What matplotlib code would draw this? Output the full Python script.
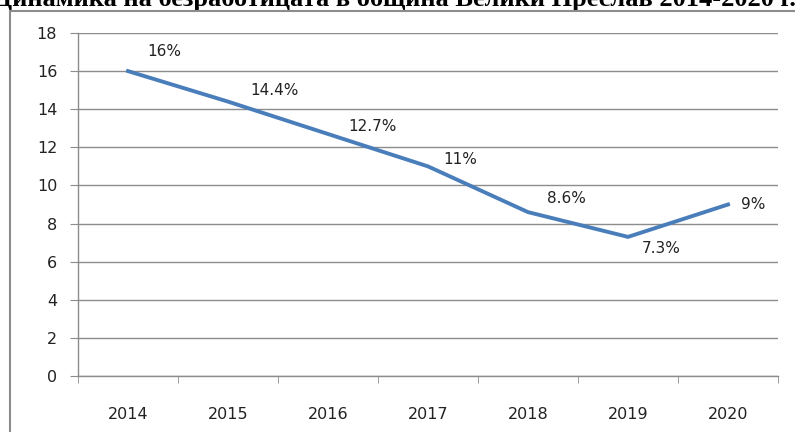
import matplotlib.pyplot as plt
from matplotlib.patches import Rectangle

# unemployment rate by year
years = ['2014', '2015', '2016', '2017', '2018', '2019', '2020']
rate = [16, 14.4, 12.7, 11, 8.6, 7.3, 9]
labels = ['16%', '14.4%', '12.7%', '11%', '8.6%', '7.3%', '9%']
title = 'Динамика на безработицата в община Велики Преслав 2014-2020 г.'

grey = '#8c8c8c'

fig = plt.figure(figsize=(7.95, 4.32), dpi=100)

# title, only lower part is visible
fig.text(0.497, 1 - 6 / 432, title, ha='center', va='baseline',
         family='Liberation Serif', weight='bold', fontsize=19)

# outer chart frame (cut off at right and bottom)
frame = Rectangle((10 / 795, -0.1), 1.0, 0.1 + 1 - 11 / 432,
                  transform=fig.transFigure, fill=False,
                  edgecolor=grey, linewidth=1.5, zorder=5)
fig.add_artist(frame)

ax = fig.add_axes([78 / 795, 56 / 432, 700 / 795, 343 / 432])
x = list(range(len(years)))
ax.plot(x, rate, color='#4a7ebb', linewidth=2.8, solid_joinstyle='miter')

# data labels
offsets = [(36, 20), (46, 11), (45, 7), (32, 7), (38, 14), (33, -12), (25, 0)]
for xi, yi, lab, (dx, dy) in zip(x, rate, labels, offsets):
    ax.annotate(lab, (xi, yi), xytext=(dx * 0.72, dy * 0.72),
                textcoords='offset points', ha='center', va='center',
                fontsize=11, color='#222222')

ax.set_xlim(-0.5, len(years) - 0.5)
ax.set_ylim(0, 18)
ax.set_yticks(range(0, 19, 2))
ax.set_xticks(x)
ax.set_xticklabels(years)
ax.set_xticks([i - 0.5 for i in range(len(years) + 1)], minor=True)

ax.grid(axis='y', color=grey, linewidth=1)
ax.set_axisbelow(True)
for s in ['top', 'right']:
    ax.spines[s].set_visible(False)
for s in ['left', 'bottom']:
    ax.spines[s].set_color(grey)
    ax.spines[s].set_linewidth(1)

ax.tick_params(axis='y', length=6, color=grey, pad=9, labelsize=11.5,
               labelcolor='#222222')
ax.tick_params(axis='x', which='major', length=0, pad=22, labelsize=11.5,
               labelcolor='#222222')
ax.tick_params(axis='x', which='minor', length=5, color=grey)

fig.savefig('out.png', dpi=100)
